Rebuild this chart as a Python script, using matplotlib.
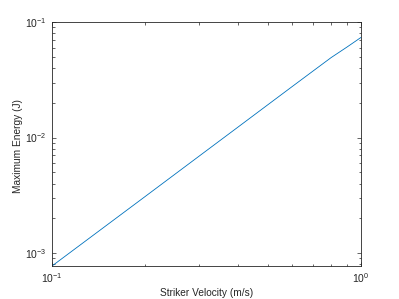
import matplotlib
matplotlib.use("Agg")
import matplotlib.pyplot as plt
from matplotlib.ticker import LogLocator, FixedLocator, NullFormatter

plt.rcParams['font.family'] = ['Liberation Sans', 'DejaVu Sans']
plt.rcParams['mathtext.fontset'] = 'custom'
plt.rcParams['mathtext.rm'] = 'Liberation Sans'
plt.rcParams['mathtext.it'] = 'Liberation Sans:italic'
plt.rcParams['mathtext.bf'] = 'Liberation Sans:bold'

velocity = [0.1, 0.2, 0.3, 0.4, 0.5, 0.6, 0.7, 0.8, 0.9, 1.0]
energy = [7.71e-4, 3.08e-3, 6.94e-3, 0.01234, 0.0193, 0.0278, 0.0378, 0.0493, 0.0608, 0.0738]
x_label = "Striker Velocity (m/s)"
y_label = "Maximum Energy (J)"

c_axis = (0.15, 0.15, 0.15)
fig = plt.figure(figsize=(3.99, 2.99), dpi=100)
ax = fig.add_axes([0.13, 0.11, 0.775, 0.816])
ax.plot(velocity, energy, color='#0072BD', lw=0.6)
ax.set_xscale('log')
ax.set_yscale('log')
ax.set_xlim(0.1, 1.0)
ax.set_ylim(min(energy), 0.1)

ax.xaxis.set_major_locator(FixedLocator([0.1, 1.0]))
ax.yaxis.set_major_locator(FixedLocator([1e-3, 1e-2, 1e-1]))
ax.xaxis.set_minor_locator(LogLocator(base=10, subs=range(2, 10)))
ax.yaxis.set_minor_locator(LogLocator(base=10, subs=range(2, 10)))
ax.xaxis.set_minor_formatter(NullFormatter())
ax.yaxis.set_minor_formatter(NullFormatter())
ax.set_xticklabels([r'$10^{-1}$', r'$10^{0}$'])
ax.set_yticklabels([r'$10^{-3}$', r'$10^{-2}$', r'$10^{-1}$'])

ax.tick_params(which='both', direction='in', top=True, right=True,
               colors=c_axis, labelsize=7.5, width=0.5)
ax.tick_params(which='major', length=3)
ax.tick_params(which='minor', length=1.8)
for s in ax.spines.values():
    s.set_color(c_axis)
    s.set_linewidth(0.6)

ax.set_xlabel(x_label, fontsize=7.3, color=c_axis)
ax.set_ylabel(y_label, fontsize=7.3, color=c_axis)
ax.xaxis.set_label_coords(0.5, -0.088)
ax.yaxis.set_label_coords(-0.094, 0.49)

fig.savefig("out.png", dpi=100)
